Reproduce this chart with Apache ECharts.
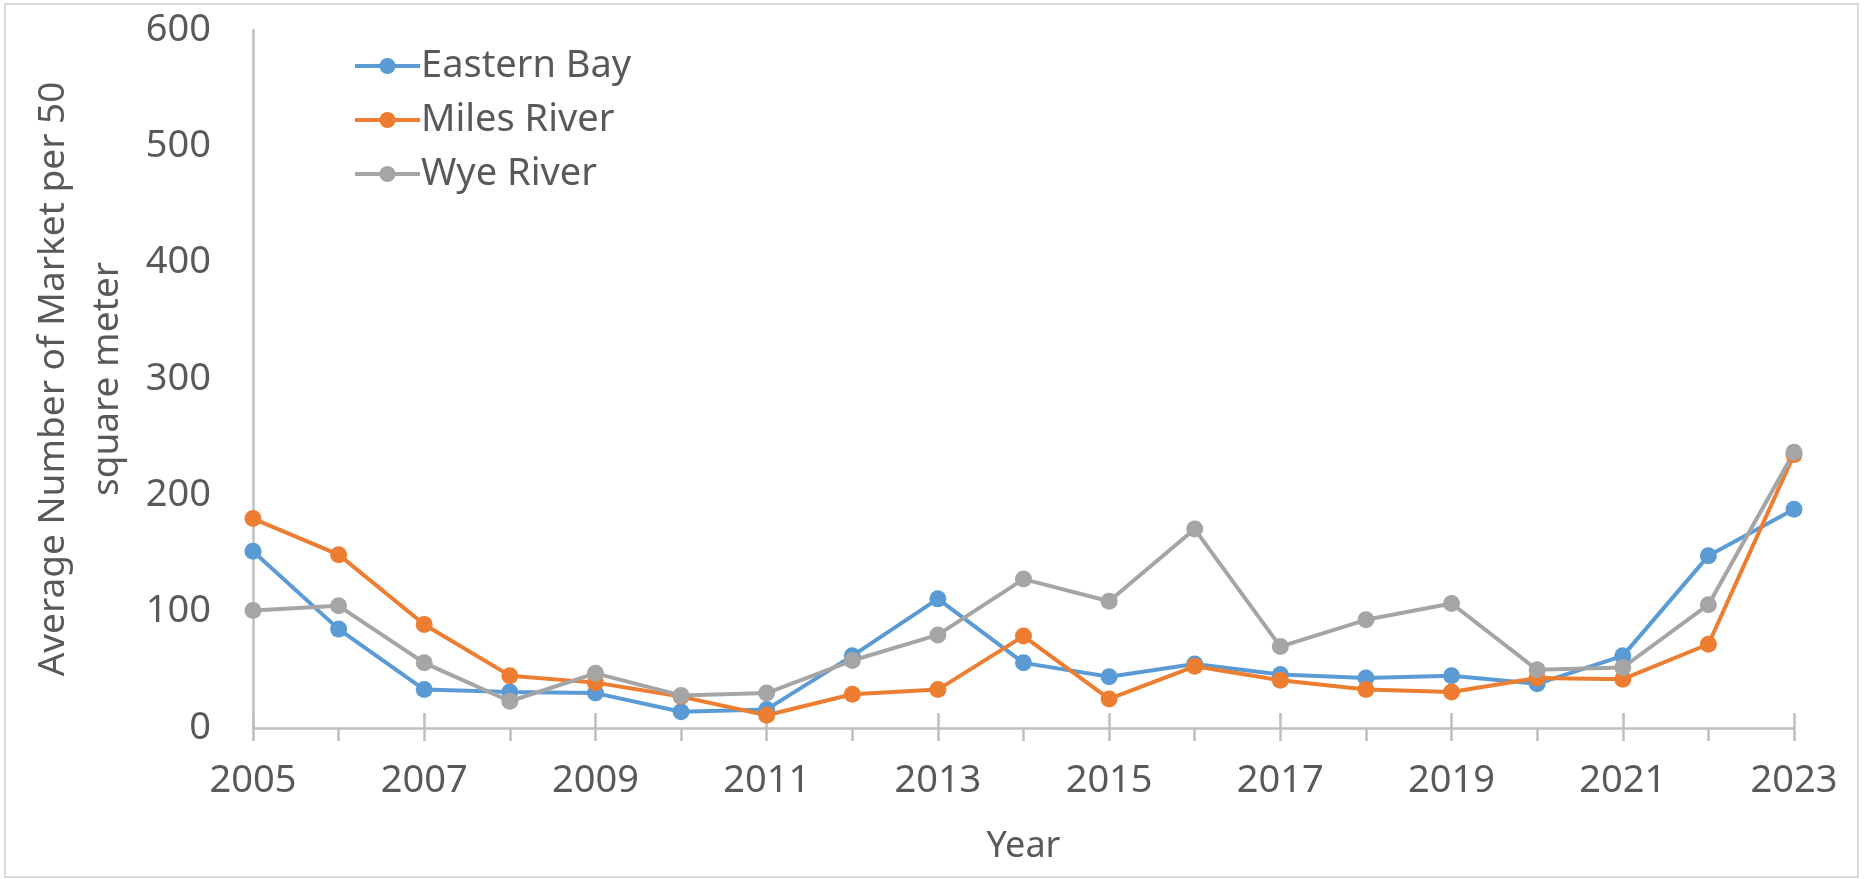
<!DOCTYPE html>
<html>
<head>
<meta charset="utf-8">
<title>Average Number of Market</title>
<script src="https://cdn.jsdelivr.net/npm/echarts@6/dist/echarts.min.js"></script>
<style>
  html, body { margin: 0; padding: 0; background: #fff; }
  #main { width: 1865px; height: 879px; }
</style>
</head>
<body>
<div id="main"></div>
<script>
// years on the x axis
var years = ['2005','2006','2007','2008','2009','2010','2011','2012','2013','2014',
             '2015','2016','2017','2018','2019','2020','2021','2022','2023'];
// series values
var easternBay = [152, 85, 33, 31, 30, 14, 16, 62, 111, 56, 44, 55, 46, 43, 45, 38, 62, 148, 188];
var milesRiver = [180, 149, 89, 45, 39, 27, 11, 29, 33, 79, 25, 53, 41, 33, 31, 43, 42, 72, 235];
var wyeRiver   = [101, 105, 56, 23, 47, 28, 30, 58, 80, 128, 109, 171, 70, 93, 107, 50, 52, 106, 237];

var textColor = '#595959';
var axisColor = '#bfbfbf';
var font = 'Noto Sans';

var myChart = echarts.init(document.getElementById('main'));

function lineSeries(name, data, color) {
    return {
        name: name,
        type: 'line',
        data: data,
        symbol: 'circle',
        symbolSize: 17,
        itemStyle: { color: color },
        lineStyle: { color: color, width: 4 },
        emphasis: { disabled: true },
        animation: false
    };
}

var option = {
    backgroundColor: '#fff',
    textStyle: { fontFamily: font },
    graphic: [{
        // chart area frame
        type: 'rect',
        shape: { x: 5, y: 4, width: 1853, height: 873 },
        style: { fill: 'none', stroke: '#d9d9d9', lineWidth: 2 },
        silent: true
    }],
    legend: {
        orient: 'vertical',
        left: 348,
        top: 41,
        itemWidth: 65,
        itemHeight: 20,
        itemGap: 14,
        lineStyle: { width: 4 },
        textStyle: { color: textColor, fontSize: 38, fontFamily: font, lineHeight: 40, padding: [0, 0, 0, -4] },
        data: ['Eastern Bay', 'Miles River', 'Wye River']
    },
    grid: { left: 253, right: 71, top: 30, bottom: 151 },
    xAxis: [{
        type: 'category',
        data: years,
        boundaryGap: false,
        name: 'Year',
        nameLocation: 'middle',
        nameGap: 101,
        nameTextStyle: { color: textColor, fontSize: 36, fontFamily: font },
        axisLine: { lineStyle: { color: axisColor, width: 2.5 } },
        axisTick: { show: true, interval: 0, length: 13, lineStyle: { color: axisColor, width: 2.5 } },
        axisLabel: { interval: 1, color: textColor, fontSize: 38, fontFamily: font, margin: 34 },
        splitLine: { show: false }
    }, {
        // crossing marks at the labelled years
        type: 'category',
        data: years,
        boundaryGap: false,
        position: 'bottom',
        axisLine: { show: false },
        axisTick: { show: true, inside: true, interval: 1, length: 15, lineStyle: { color: axisColor, width: 2.5 } },
        axisLabel: { show: false },
        splitLine: { show: false }
    }],
    yAxis: {
        type: 'value',
        min: 0,
        max: 600,
        interval: 100,
        name: 'Average Number of Market per 50\nsquare meter',
        nameLocation: 'middle',
        nameGap: 114,
        nameTextStyle: { color: textColor, fontSize: 37, fontFamily: font, lineHeight: 54 },
        axisLine: { show: true, lineStyle: { color: axisColor, width: 2.5 } },
        axisTick: { show: false },
        axisLabel: { color: textColor, fontSize: 38, fontFamily: font, margin: 42 },
        splitLine: { show: false }
    },
    series: [
        lineSeries('Eastern Bay', easternBay, '#5b9bd5'),
        lineSeries('Miles River', milesRiver, '#ed7d31'),
        lineSeries('Wye River', wyeRiver, '#a5a5a5')
    ]
};
myChart.setOption(option);
</script>
</body>
</html>
